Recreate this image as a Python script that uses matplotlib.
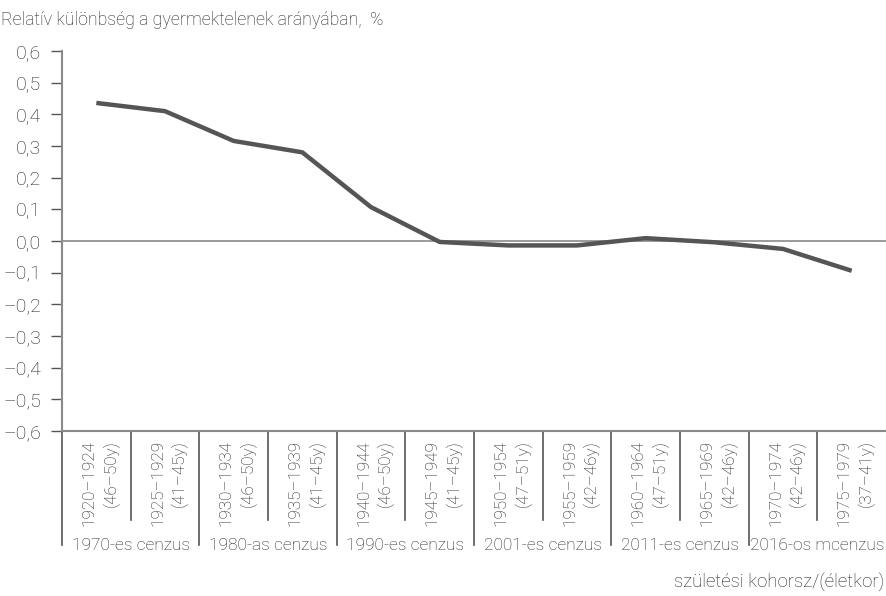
import matplotlib
matplotlib.use("Agg")
import matplotlib.pyplot as plt
import matplotlib.transforms as mtransforms

# Data
cohorts = ["1920–1924", "1925–1929", "1930–1934", "1935–1939", "1940–1944", "1945–1949",
           "1950–1954", "1955–1959", "1960–1964", "1965–1969", "1970–1974", "1975–1979"]
ages = ["(46–50y)", "(41–45y)", "(46–50y)", "(41–45y)", "(46–50y)", "(41–45y)",
        "(47–51y)", "(42–46y)", "(47–51y)", "(42–46y)", "(42–46y)", "(37–41y)"]
censuses = ["1970-es cenzus", "1980-as cenzus", "1990-es cenzus",
            "2001-es cenzus", "2011-es cenzus", "2016-os mcenzus"]
values = [0.436, 0.41, 0.316, 0.28, 0.107, -0.003,
          -0.014, -0.014, 0.009, -0.004, -0.025, -0.094]
yticks = [-0.6, -0.5, -0.4, -0.3, -0.2, -0.1, 0.0, 0.1, 0.2, 0.3, 0.4, 0.5, 0.6]

plt.rcParams['font.family'] = ['Roboto', 'DejaVu Sans']
txt = "#222222"
axc = "#8a8a8a"

W, H = 886, 596
fig = plt.figure(figsize=(W / 100, H / 100), dpi=100)
ax = fig.add_axes([62 / W, 1 - 431 / H, (W - 62) / W, 380 / H])

xs = [i + 0.5 for i in range(len(values))]
ax.plot(xs, values, color="#555555", lw=3.2, solid_capstyle="butt", zorder=3)
ax.axhline(0, color=axc, lw=1.2, zorder=2)

ax.set_xlim(0, len(values))
ax.set_ylim(-0.6, 0.6)
for s in ["top", "right"]:
    ax.spines[s].set_visible(False)
for s in ["left", "bottom"]:
    ax.spines[s].set_color(axc)
    ax.spines[s].set_linewidth(1.5)

ax.set_yticks(yticks)
ax.set_yticklabels([("–" if v < 0 else "") + f"{abs(v):.1f}".replace(".", ",") for v in yticks],
                   fontweight="light")
ax.tick_params(axis="y", length=8, width=1, color="#555555", labelsize=14,
               labelcolor=txt, pad=7)
ax.set_xticks([])

tr = mtransforms.blended_transform_factory(ax.transData, ax.transAxes)
# category labels and short dividers
for i, (c, a) in enumerate(zip(cohorts, ages)):
    ax.text(i + 0.56, -0.024, c + "\n" + a, transform=tr, rotation=90, ha="center",
            va="top", fontsize=12.3, color=txt, linespacing=1.45, multialignment="right",
            fontweight="light")
for i in range(1, len(values)):
    low = -0.3 if i % 2 == 0 else -0.234
    ax.plot([i, i], [0, low], transform=tr, color="#555555", lw=1.2, clip_on=False)
ax.plot([0, 0], [0, -0.3], transform=tr, color="#555555", lw=1.2, clip_on=False)
# census group labels
for g, name in enumerate(censuses):
    ax.text(2 * g + 1, -0.3, name, transform=tr, ha="center", va="center",
            fontsize=12.5, color=txt, fontweight="light")

fig.text(1 / W, 1 - 20 / H, "Relatív különbség a gyermektelenek arányában,  %",
         ha="left", va="center", fontsize=12.8, color=txt, fontweight="light")
fig.text(884 / W, 1 - 583 / H, "születési kohorsz/(életkor)", ha="right", va="center",
         fontsize=13.4, color=txt, fontweight="light")

fig.savefig("out.png", dpi=100)
